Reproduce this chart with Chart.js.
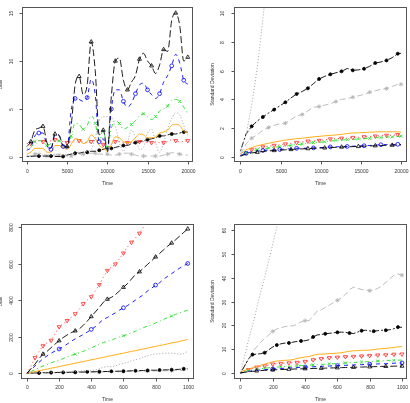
<!DOCTYPE html>
<html>
<head>
<meta charset="utf-8">
<script src="https://cdn.jsdelivr.net/npm/chart.js@4.4.1/dist/chart.umd.min.js"></script>
<style>
html, body { margin: 0; padding: 0; background: #fff; }
#wrap { position: relative; width: 410px; height: 403px; overflow: hidden; }
canvas { position: absolute; }
</style>
</head>
<body>
<div id="wrap">
  <canvas id="c1" width="205" height="200" style="left:0;top:0"></canvas>
  <canvas id="c2" width="205" height="200" style="left:205px;top:0"></canvas>
  <canvas id="c3" width="205" height="203" style="left:0;top:200px"></canvas>
  <canvas id="c4" width="205" height="203" style="left:205px;top:200px"></canvas>
</div>
<script>
// ---- data ----

// top-left: bias over long run
const time1 = [0,500,1000,1500,2000,2500,3000,3500,4000,4500,5000,5500,6000,6500,7000,7500,8000,8500,9000,9500,10000,10500,11000,11500,12000,12500,13000,13500,14000,14500,15000,15500,16000,16500,17000,17500,18000,18500,19000,19500,20000];
const bias1Black = [1.1,1.6,2.8,3.0,3.2,1.5,0.9,2.4,2.3,1.2,1.1,3.2,7.5,8.4,6.5,7.5,12.0,9.0,2.3,2.8,0.7,6.3,10.0,10.3,8.0,7.0,7.8,8.5,10.2,10.8,10.0,9.5,8.7,9.6,11.2,11.0,14.2,15.0,13.7,10.0,10.4];
const bias1Blue = [0.7,1.0,2.2,2.5,2.5,1.2,0.8,2.3,2.2,1.1,0.9,4.8,6.1,6.0,5.8,6.2,8.1,6.5,1.6,1.9,0.5,5.0,7.0,7.0,5.8,5.2,5.6,6.6,7.5,7.7,7.0,6.5,6.1,6.6,7.8,8.5,9.5,10.7,9.8,8.0,7.6];
const bias1Green = [0.9,1.0,1.6,1.7,1.6,1.2,1.4,1.7,1.7,1.1,1.0,2.2,3.5,3.4,2.9,3.3,4.3,3.5,1.7,2.9,1.0,3.0,3.8,3.5,2.9,3.1,3.4,3.8,4.3,4.5,4.2,3.9,4.2,4.8,5.0,5.3,5.9,6.0,5.8,5.2,4.5];
const bias1Orange = [0.3,0.5,0.9,0.9,0.9,0.5,0.5,1.2,1.2,1.0,0.8,1.3,1.9,1.8,1.4,1.6,2.3,1.9,1.2,0.9,0.6,1.3,2.1,2.0,1.6,1.5,1.6,2.0,2.4,2.3,2.0,2.0,2.1,2.5,2.6,2.8,3.3,3.4,3.3,2.7,2.5];
const bias1Red = [1.4,1.4,1.6,1.7,1.6,1.6,1.7,1.8,1.7,1.6,1.5,1.6,1.7,1.7,1.6,1.5,1.6,1.8,1.7,1.3,0.9,1.3,1.6,1.6,1.5,1.5,1.5,1.6,1.6,1.6,1.5,1.5,1.5,1.5,1.5,1.6,1.8,1.7,1.6,1.6,1.7];
const bias1Gray = [0.1,0.1,0.2,0.2,0.2,0.1,0.2,0.3,0.2,0.2,0.3,0.3,0.4,0.5,0.5,0.6,0.8,2.0,3.8,4.2,4.2,4.1,3.2,1.5,0.6,1.5,2.8,2.0,0.8,1.0,2.5,2.9,1.5,0.5,1.5,3.0,4.0,4.6,4.4,3.3,2.2];
const bias1Dots = [0.05,0.05,0.1,0.1,0.1,0.1,0.1,0.05,0.05,0.05,0.2,0.3,0.4,0.4,0.5,0.5,0.6,0.6,0.7,0.8,0.9,0.9,1.0,1.1,1.2,1.2,1.4,1.5,1.6,1.7,1.8,1.9,2.0,2.2,2.2,2.3,2.4,2.4,2.5,2.6,2.6];
const bias1Light = [0.1,0.1,0.3,0.4,0.3,0.1,0.1,0.2,0.2,0.2,0.1,0.1,0.2,0.3,0.3,0.3,0.4,0.4,0.3,0.3,0.3,0.2,0.2,0.3,0.4,0.4,0.3,0.2,0.1,0.1,0.1,0.1,0.1,0.1,0.2,0.3,0.45,0.4,0.3,0.2,0.2];

// top-right: standard deviation over long run
const time2 = [0,700,1400,2100,2800,3500,4200,4900,5600,6300,7000,7700,8400,9100,9800,10500,11200,11900,12600,13300,14000,14700,15400,16100,16800,17500,18200,18900,19600,20000];
const sd2Black = [0.05,0.2,0.28,0.33,0.38,0.42,0.45,0.47,0.5,0.52,0.55,0.56,0.58,0.6,0.62,0.63,0.65,0.67,0.69,0.7,0.72,0.73,0.75,0.77,0.78,0.8,0.81,0.82,0.83,0.83];
const sd2Blue = [0.1,0.25,0.35,0.4,0.45,0.48,0.5,0.52,0.55,0.57,0.6,0.6,0.62,0.63,0.65,0.67,0.7,0.7,0.72,0.73,0.75,0.76,0.78,0.8,0.82,0.85,0.86,0.87,0.88,0.87];
const sd2Green = [0.1,0.3,0.4,0.5,0.55,0.62,0.68,0.72,0.75,0.8,0.85,0.9,0.95,1.0,1.02,1.05,1.1,1.15,1.18,1.2,1.22,1.25,1.27,1.3,1.33,1.35,1.38,1.4,1.42,1.45];
const sd2Orange = [0.2,0.5,0.65,0.78,0.87,0.95,1.03,1.1,1.17,1.22,1.27,1.3,1.35,1.4,1.43,1.47,1.5,1.53,1.57,1.63,1.67,1.68,1.7,1.72,1.74,1.75,1.75,1.75,1.74,1.74];
const sd2Red = [0.1,0.35,0.5,0.6,0.7,0.75,0.8,0.85,0.9,0.95,1.0,1.05,1.1,1.12,1.15,1.2,1.25,1.27,1.3,1.3,1.35,1.37,1.4,1.4,1.45,1.47,1.5,1.5,1.55,1.6];
const sd2Gray = [0.4,1.5,3.6,6.2,9.6,13.2];
const sd2Dots = [0.4,1.6,2.13,2.5,2.78,3.05,3.29,3.55,3.8,4.1,4.38,4.55,4.77,5.1,5.42,5.6,5.74,5.85,5.95,6.15,6.02,6.05,6.13,6.3,6.53,6.6,6.71,6.9,7.18,7.2];
const sd2Light = [0.2,0.9,1.3,1.55,1.85,2.05,2.2,2.3,2.35,2.6,2.85,2.95,3.2,3.45,3.5,3.6,3.7,3.85,4.0,4.05,4.15,4.25,4.35,4.5,4.6,4.7,4.75,4.9,5.05,5.05];

// bottom row: short run
const time3 = [0,25,50,75,100,125,150,175,200,225,250,275,300,325,350,375,400,425,450,475,500,525,550,575,600,625,650,675,700,725,750,775,800,825,850,875,900,925,950,975,1000];
const bias3Black = [0,25,50,80,105,120,140,160,178,195,210,222,232,242,262,285,310,335,360,388,405,415,430,450,470,490,515,540,555,575,595,615,636,655,675,695,712,730,750,770,789];
const bias3Blue = [0,20,40,60,80,95,110,122,133,145,160,175,188,200,212,225,240,255,275,295,305,318,330,345,358,370,385,400,415,430,450,465,482,495,515,530,545,560,575,588,600];
const bias3Green = [0,10,20,30,40,48,57,65,73,80,90,98,105,112,120,130,140,148,160,168,175,182,190,198,205,213,222,230,240,250,258,265,275,285,295,305,313,322,330,338,345];
const bias3Orange = [0,5,10,14,19,23,28,32,37,42,46,51,55,60,64,69,74,78,83,87,92,97,101,106,110,115,120,124,129,133,138,143,147,152,156,161,166,170,175,180,185];
const bias3Red = [0,40,85,120,150,165,180,215,254,270,288,305,325,350,380,400,418,450,484,525,562,580,597,625,657,690,716,740,765,800,835,865];
const bias3Gray = [0,2,3,4,5,5,6,6,7,8,8,9,10,12,14,15,15,18,25,33,37,36,40,50,55,60,68,75,80,88,95,102,106,108,110,110,110,108,104,108,120];
const bias3Dots = [0,1,2,2,3,3,4,4,5,5,5,6,6,7,7,8,8,9,9,10,10,11,11,12,12,13,14,14,15,15,16,17,17,18,19,19,20,21,22,25,24];
const bias3Light = [0,1,2,2,2,3,3,3,4,4,4,5,5,6,6,6,7,7,7,8,8,8,9,9,10,10,10,11,11,12,12,12,13,13,14,14,14,15,15,16,16];

const sd4Black = [0.1,0.4,0.6,0.8,1.0,1.1,1.2,1.3,1.4,1.5,1.55,1.6,1.7,1.75,1.8,1.85,1.9,1.95,2.0,2.05,2.1,2.15,2.2,2.25,2.3,2.35,2.4,2.45,2.5,2.55,2.6,2.65,2.7,2.75,2.8,2.85,2.9,2.9,2.95,3.0,3.0];
const sd4Blue = [0.1,0.5,0.8,1.0,1.2,1.4,1.5,1.6,1.8,1.9,2.0,2.1,2.2,2.3,2.4,2.5,2.6,2.6,2.7,2.8,2.9,3.0,3.0,3.1,3.2,3.3,3.3,3.4,3.5,3.5,3.6,3.7,3.8,3.8,3.9,4.0,4.0,4.1,4.2,4.3,4.3];
const sd4Green = [0.2,0.7,1.1,1.4,1.7,1.9,2.1,2.3,2.5,2.6,2.7,2.8,2.9,3.0,3.1,3.2,3.3,3.4,3.5,3.6,3.7,3.8,3.9,4.0,4.1,4.2,4.3,4.4,4.5,4.6,4.7,4.8,4.9,5.0,5.1,5.2,5.3,5.4,5.4,5.5,5.5];
const sd4Orange = [0.5,1.2,1.8,2.3,2.8,3.3,3.8,4.3,4.8,5.1,5.3,5.4,5.5,5.7,6.2,6.5,6.8,7.0,7.5,7.9,8.0,8.1,8.2,8.3,8.4,8.6,8.9,9.2,9.4,9.5,9.6,9.6,9.7,9.9,10.1,10.3,10.4,10.6,10.8,11.0,11.2];
const sd4Red = [0.3,1.0,1.5,2.0,2.5,2.8,3.1,3.4,3.8,4.0,4.1,4.2,4.3,4.4,4.5,4.7,4.9,5.2,5.6,5.9,6.1,6.3,6.5,6.6,6.7,6.8,6.9,7.0,7.0,7.1,7.2,7.3,7.4,7.5,7.6,7.6,7.7,7.8,7.9,8.0,8.0];
const sd4Gray = [0,7,14,20,27,34,40,47,54,61,68,74];
const sd4Dots = [0,3,6,7.8,8,8.2,8.6,9.8,11,11.8,12.3,12.6,12.7,13,13.3,13.5,13.6,14,15.2,16,16.2,16.5,16.7,16.9,17.1,17.2,17.1,16.8,16.6,17.2,17.8,18,17.7,17.6,17.8,18,18,18.2,18.6,19.3,19.2];
const sd4Light = [0,3,6,9,11,13,14.5,16,17.5,18.5,19,19.5,19.8,19.8,20.5,21.5,22,22,24,26,26.5,27.5,28.5,29.5,30.5,31.5,33,35,36,35.5,35,34.8,34.5,34.8,35.5,36.5,38,39.5,41,41.5,41];

// tick labels
const xTicksLong = [0,5000,10000,15000,20000];
const xTicksShort = [0,200,400,600,800,1000];
const yTicks1 = [0,5,10,15];
const yTicks2 = [0,2,4,6,8,10];
const yTicks3 = [0,200,400,600,800];
const yTicks4 = [0,10,20,30,40,50,60];

// ---- line styles, same order as the series in each panel ----
const STYLES = [
    {color: '#000000', dash: [7, 3], point: 'triangle', r: 2.3},          // long dash, open triangles
    {color: '#0000ff', dash: [4, 4], point: 'circle', r: 1.9},            // dashed, open circles
    {color: '#22dd22', dash: [1, 3, 4, 3], point: 'crossRot', r: 2.1},    // dot-dash, crosses
    {color: '#ffa500', dash: [], point: false, r: 0},                      // solid orange
    {color: '#ff2a2a', dash: [1, 3], point: 'triangle', rot: 180, r: 2.3},// dotted, inverted triangles
    {color: '#999999', dash: [1, 2], point: false, r: 0},                  // dotted gray
    {color: '#000000', dash: [2, 2, 6, 2], point: 'circle', fill: true, r: 1.5},
    {color: '#b4b4b4', dash: [6, 3], point: 'star', r: 2.2}
];

function buildSets(time, series, marks, smooth) {
    return series.map((ys, i) => {
        const st = STYLES[i], mk = marks[i];
        return {
            data: ys.map((y, j) => ({x: time[j], y: y})),
            borderColor: st.color,
            borderWidth: 0.9,
            borderDash: st.dash,
            cubicInterpolationMode: smooth ? 'monotone' : 'default',
            tension: 0,
            fill: false,
            pointStyle: st.point || 'circle',
            pointRotation: st.rot || 0,
            pointRadius: c => (mk && c.dataIndex > 0 && c.dataIndex % mk[0] === mk[1]) ? st.r : 0,
            pointBorderColor: st.color,
            pointBackgroundColor: st.fill ? st.color : 'rgba(0,0,0,0)',
            pointBorderWidth: 0.8
        };
    });
}

// box, ticks and labels drawn R-style from the chart's own scales
const rBox = {
    id: 'rbox',
    afterDatasetsDraw(chart, args, o) {
        const ctx = chart.ctx, a = chart.chartArea;
        const xs = chart.scales.x, ys = chart.scales.y;
        ctx.save();
        ctx.strokeStyle = '#555';
        ctx.lineWidth = 1;
        ctx.setLineDash([]);
        const L = Math.round(a.left) + 0.5, R = Math.round(a.right) - 0.5;
        const T = Math.round(a.top) + 0.5, B = Math.round(a.bottom) - 0.5;
        ctx.strokeRect(L, T, R - L, B - T);
        ctx.fillStyle = '#333';
        ctx.font = '5px "Liberation Sans", Arial, sans-serif';
        ctx.textAlign = 'center';
        ctx.textBaseline = 'middle';
        o.xTicks.forEach(v => {
            const px = Math.round(xs.getPixelForValue(v)) + 0.5;
            ctx.beginPath(); ctx.moveTo(px, B); ctx.lineTo(px, B + 3); ctx.stroke();
            ctx.fillText(String(v), px, a.bottom + o.xLab);
        });
        o.yTicks.forEach(v => {
            const py = Math.round(ys.getPixelForValue(v)) + 0.5;
            ctx.beginPath(); ctx.moveTo(L, py); ctx.lineTo(L - 3, py); ctx.stroke();
            ctx.save();
            ctx.translate(a.left - o.yLab, py);
            ctx.rotate(-Math.PI / 2);
            ctx.fillText(String(v), 0, 0);
            ctx.restore();
        });
        ctx.fillText('Time', (a.left + a.right) / 2, a.bottom + o.xTitle);
        ctx.translate(o.yTitleX, (a.top + a.bottom) / 2);
        ctx.rotate(-Math.PI / 2);
        ctx.fillText(o.yTitle, 0, 0);
        ctx.restore();
    }
};

const panels = [
    {id: 'c1', time: time1, smooth: true,
     series: [bias1Black, bias1Blue, bias1Green, bias1Orange, bias1Red, bias1Gray, bias1Dots, bias1Light],
     marks: [[3, 1], [3, 0], [3, 2], null, [3, 1], null, [3, 0], [3, 2]],
     pad: {left: 22, right: 12, top: 7, bottom: 38},
     x: [-600, 20650], y: [-0.52, 15.63],
     frame: {xTicks: xTicksLong, yTicks: yTicks1, yTitle: 'Bias', xLab: 10, xTitle: 22, yLab: 10, yTitleX: 1}},
    {id: 'c2', time: time2, smooth: false,
     series: [sd2Black, sd2Blue, sd2Green, sd2Orange, sd2Red, sd2Gray, sd2Dots, sd2Light],
     marks: [[3, 0], [3, 1], [2, 1], null, [2, 0], null, [2, 0], [3, 2]],
     pad: {left: 29, right: 3, top: 7, bottom: 38},
     x: [-800, 20750], y: [-0.35, 10.42],
     frame: {xTicks: xTicksLong, yTicks: yTicks2, yTitle: 'Standard Deviation', xLab: 10, xTitle: 22, yLab: 11, yTitleX: 8}},
    {id: 'c3', time: time3, smooth: false,
     series: [bias3Black, bias3Blue, bias3Green, bias3Orange, bias3Red, bias3Gray, bias3Dots, bias3Light],
     marks: [[4, 0], [8, 0], [12, 0], null, [2, 0], null, [3, 0], [6, 0]],
     pad: {left: 21, right: 11, top: 24, bottom: 24},
     x: [-37, 1039], y: [-31, 816],
     frame: {xTicks: xTicksShort, yTicks: yTicks3, yTitle: 'Bias', xLab: 9, xTitle: 21, yLab: 9.5, yTitleX: 0.5}},
    {id: 'c4', time: time3, smooth: false,
     series: [sd4Black, sd4Blue, sd4Green, sd4Orange, sd4Red, sd4Gray, sd4Dots, sd4Light],
     marks: [[4, 0], [8, 0], [4, 2], null, [2, 0], null, [3, 0], [8, 0]],
     pad: {left: 29, right: 3, top: 24, bottom: 24},
     x: [-40, 1031], y: [-2.4, 62.4],
     frame: {xTicks: xTicksShort, yTicks: yTicks4, yTitle: 'Standard Deviation', xLab: 9, xTitle: 21, yLab: 9.5, yTitleX: 8}}
];

panels.forEach(p => {
    new Chart(document.getElementById(p.id), {
        type: 'line',
        data: {datasets: buildSets(p.time, p.series, p.marks, p.smooth)},
        options: {
            responsive: false,
            animation: false,
            devicePixelRatio: 1,
            events: [],
            layout: {padding: p.pad, autoPadding: false},
            plugins: {legend: {display: false}, tooltip: {enabled: false}, rbox: p.frame},
            scales: {
                x: {type: 'linear', display: false, min: p.x[0], max: p.x[1]},
                y: {type: 'linear', display: false, min: p.y[0], max: p.y[1]}
            }
        },
        plugins: [rBox]
    });
});
</script>
</body>
</html>
